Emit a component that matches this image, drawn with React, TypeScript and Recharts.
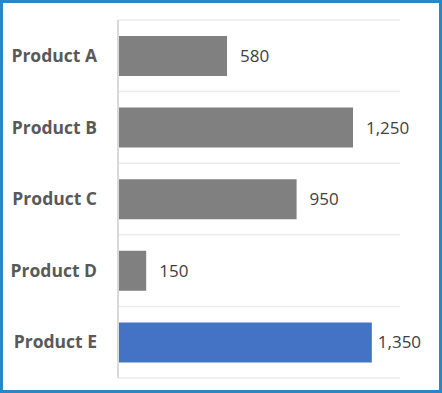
import React from 'react';
import { BarChart, Bar, XAxis, YAxis, CartesianGrid, Cell, LabelList } from 'recharts';

const categories = ['Product A', 'Product B', 'Product C', 'Product D', 'Product E'];
const values = [580, 1250, 950, 150, 1350];
const colors = ['#808080', '#808080', '#808080', '#808080', '#4472C4'];

const data = categories.map((name, i) => ({ name, value: values[i] }));

const fmt = (v: number) => v.toLocaleString('en-US');

const CHART_W = 442;
const VALUE_FONT = 17;

const ValueLabel = (props: any) => {
  const { x, y, width, height, value } = props;
  const text = fmt(Number(value));
  const textW = text.length * VALUE_FONT * 0.52;
  const maxX = CHART_W - 20 - textW;
  const lx = Math.min(x + width + 13, maxX);
  return (
    <text
      x={lx}
      y={y + height / 2}
      dy="0.355em"
      fill="#404040"
      fontSize={VALUE_FONT}
      fontFamily="Open Sans"
      textAnchor="start"
    >
      {text}
    </text>
  );
};

export default function App() {
  return (
    <div
      style={{
        position: 'absolute',
        left: 0,
        top: 0,
        width: 442,
        height: 393,
        boxSizing: 'border-box',
        border: '3px solid #2E86C1',
        background: '#fff',
      }}
    >
      <div style={{ position: 'absolute', left: -3, top: -3 }}>
        <BarChart
          width={CHART_W}
          height={393}
          data={data}
          layout="vertical"
          margin={{ top: 20, right: 42, bottom: 15, left: 0 }}
          barSize={40}
        >
          <CartesianGrid
            vertical={false}
            stroke="#EBEBEB"
            strokeWidth={1.5}
            horizontalCoordinatesGenerator={({ offset }: any) =>
              Array.from({ length: categories.length + 1 }, (_, i) => offset.top + (i * offset.height) / categories.length)
            }
          />
          <XAxis type="number" domain={[0, 1500]} hide />
          <YAxis
            type="category"
            dataKey="name"
            width={118}
            axisLine={{ stroke: '#D9D9D9', strokeWidth: 2 }}
            tickLine={false}
            tickMargin={15}
            tick={{ fill: '#595959', fontSize: 17.5, fontWeight: 700, fontFamily: 'Open Sans' }}
          />
          <Bar dataKey="value" isAnimationActive={false}>
            {data.map((d, i) => (
              <Cell key={d.name} fill={colors[i]} />
            ))}
            <LabelList dataKey="value" content={ValueLabel} />
          </Bar>
        </BarChart>
      </div>
    </div>
  );
}
